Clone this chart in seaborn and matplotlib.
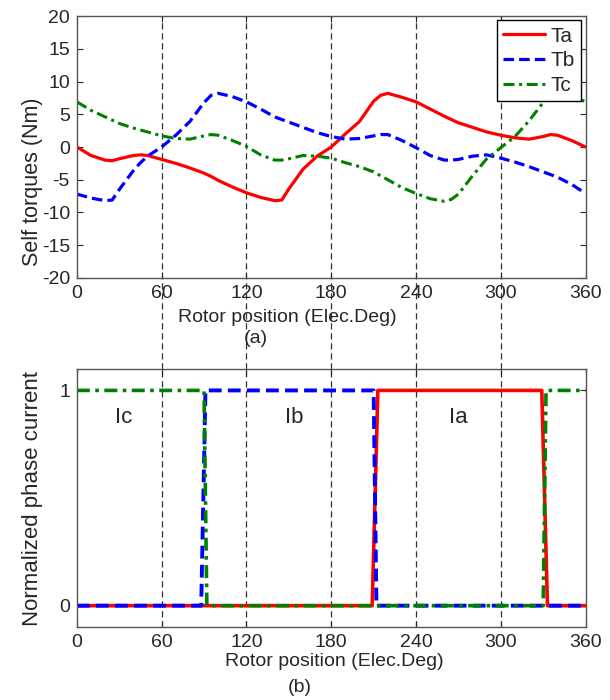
import matplotlib
matplotlib.use('Agg')
import matplotlib.pyplot as plt
import numpy as np
import seaborn as sns

# self torques, every 10 electrical degrees (a few extra near the turns)
angle = [0, 10, 20, 25, 30, 40, 45, 50, 60, 70, 80, 90, 95, 100, 110, 120, 130, 140, 145, 150,
         160, 170, 180, 190, 200, 210, 215, 220, 230, 240, 250, 260, 265, 270, 280, 290, 300,
         310, 320, 330, 335, 340, 350, 360]
ta = [0, -1.3, -2.0, -2.1, -1.8, -1.3, -1.2, -1.3, -1.9, -2.5, -3.2, -4.0, -4.5, -5.1, -6.1, -7.0,
      -7.7, -8.2, -8.1, -6.4, -3.4, -1.4, 0, 2.0, 3.9, 7.0, 7.9, 8.2, 7.6, 6.9, 5.8, 4.7, 4.2,
      3.7, 3.0, 2.3, 1.8, 1.4, 1.2, 1.6, 1.9, 1.8, 1.0, 0]
tb = [-7.2, -7.8, -8.2, -8.1, -6.5, -3.6, -2.4, -1.4, 0, 1.8, 3.9, 6.8, 7.9, 8.2, 7.7, 6.9,
      5.8, 4.6, 4.2, 3.8, 3.0, 2.2, 1.6, 1.2, 1.3, 1.7, 1.9, 1.9, 1.0, -0.1, -1.3, -2.0, -2.0,
      -1.9, -1.4, -1.2, -1.7, -2.3, -3.0, -3.8, -4.2, -4.6, -5.7, -7.1]
tc = [6.9, 5.6, 4.6, 4.1, 3.6, 2.9, 2.6, 2.3, 1.7, 1.3, 1.2, 1.7, 1.9, 1.8, 1.0, 0.1,
      -1.2, -2.0, -2.0, -1.8, -1.3, -1.4, -1.7, -2.4, -3.0, -3.8, -4.4, -5.0, -6.2, -7.1, -7.9,
      -8.3, -8.0, -7.2, -4.4, -1.8, -0.1, 1.6, 4.0, 6.8, 7.6, 8.0, 7.8, 6.9]

# normalized phase currents (switching edges)
ia_x = [0, 209, 213, 329, 333, 360]
ia_y = [0, 0, 1, 1, 0, 0]
ib_x = [0, 88, 91, 210, 212, 360]
ib_y = [0, 0, 1, 1, 0, 0]
ic_x = [0, 90, 92, 330, 332, 360]
ic_y = [1, 1, 0, 0, 1, 1]

sector_edges = [60, 120, 180, 240, 300]
xticks = [0, 60, 120, 180, 240, 300, 360]

sns.set_style('ticks')
plt.rcParams['font.family'] = ['Liberation Sans', 'DejaVu Sans']
plt.rcParams['axes.unicode_minus'] = False
plt.rcParams['xtick.direction'] = 'in'
plt.rcParams['ytick.direction'] = 'in'

fig = plt.figure(figsize=(6.1, 7), dpi=100)
ax1 = fig.add_axes([0.126, 0.603, 0.834, 0.374])
ax2 = fig.add_axes([0.126, 0.104, 0.834, 0.369])

red, blue, green = '#ff0000', '#0000ff', '#008000'
dash_b = (3.3, 1.6)
dash_c = (3.6, 1.5, 1.0, 1.5)

# (a) self torques
sns.lineplot(x=angle, y=ta, ax=ax1, color=red, lw=2.3, label='Ta', estimator=None, sort=False)
sns.lineplot(x=angle, y=tb, ax=ax1, color=blue, lw=2.3, label='Tb', estimator=None, sort=False)
sns.lineplot(x=angle, y=tc, ax=ax1, color=green, lw=2.2, label='Tc', estimator=None, sort=False)
ax1.lines[1].set_dashes(dash_b)
ax1.lines[2].set_dashes(dash_c)

ax1.set_xlim(0, 360)
ax1.set_ylim(-20, 20)
ax1.set_xticks(xticks)
ax1.set_yticks(range(-20, 21, 5))
ax1.set_xlabel('')
ax1.set_ylabel('Self torques (Nm)', fontsize=15.5)
ax1.yaxis.set_label_coords(-0.066, 0.366)

leg = ax1.legend(loc='upper right', fontsize=15, handlelength=2.0, labelspacing=0.28,
                 borderaxespad=0.2, fancybox=False, framealpha=1, borderpad=0.3,
                 handletextpad=0.3)
leg.get_frame().set_edgecolor('black')
leg.get_frame().set_linewidth(1.0)
leg.get_lines()[1].set_dashes(dash_b)
leg.get_lines()[2].set_dashes(dash_c)

# (b) phase currents
sns.lineplot(x=ia_x, y=ia_y, ax=ax2, color=red, lw=2.6, estimator=None, sort=False)
sns.lineplot(x=ib_x, y=ib_y, ax=ax2, color=blue, lw=2.8, estimator=None, sort=False)
sns.lineplot(x=ic_x, y=ic_y, ax=ax2, color=green, lw=2.6, estimator=None, sort=False)
ax2.lines[1].set_dashes(dash_b)
ax2.lines[2].set_dashes(dash_c)

ax2.set_xlim(0, 360)
ax2.set_ylim(-0.1, 1.1)
ax2.set_xticks(xticks)
ax2.set_yticks([0, 1])
ax2.set_xlabel('')
ax2.set_ylabel('Normalized phase current', fontsize=16)
ax2.yaxis.set_label_coords(-0.066, 0.5)

ax2.text(33, 0.875, 'Ic', fontsize=16, ha='center', va='center')
ax2.text(154, 0.875, 'Ib', fontsize=16, ha='center', va='center')
ax2.text(270, 0.875, 'Ia', fontsize=16, ha='center', va='center')

for ax in (ax1, ax2):
    ax.tick_params(labelsize=14, top=True, right=True, length=4, width=0.8, pad=5)
    for sp in ax.spines.values():
        sp.set_color('#555555')
        sp.set_linewidth(1.0)

# sector boundaries running through both panels
gap = (0.603 - (0.104 + 0.369)) / 0.374
for x in sector_edges:
    ax1.axvline(x, ymin=-gap, ymax=1, color='#333333', lw=0.9, ls=(0, (5, 3)),
                clip_on=False, zorder=0)
    ax2.axvline(x, color='#333333', lw=0.9, ls=(0, (5, 3)), zorder=0)

fig.text(287 / 610, 1 - 318 / 700, 'Rotor position (Elec.Deg)', fontsize=14, ha='center', va='center')
fig.text(256 / 610, 1 - 339 / 700, '(a)', fontsize=14, ha='center', va='center')
fig.text(334 / 610, 1 - 662 / 700, 'Rotor position (Elec.Deg)', fontsize=14, ha='center', va='center')
fig.text(300 / 610, 1 - 688 / 700, '(b)', fontsize=14, ha='center', va='center')

fig.savefig('out.png', dpi=100)
